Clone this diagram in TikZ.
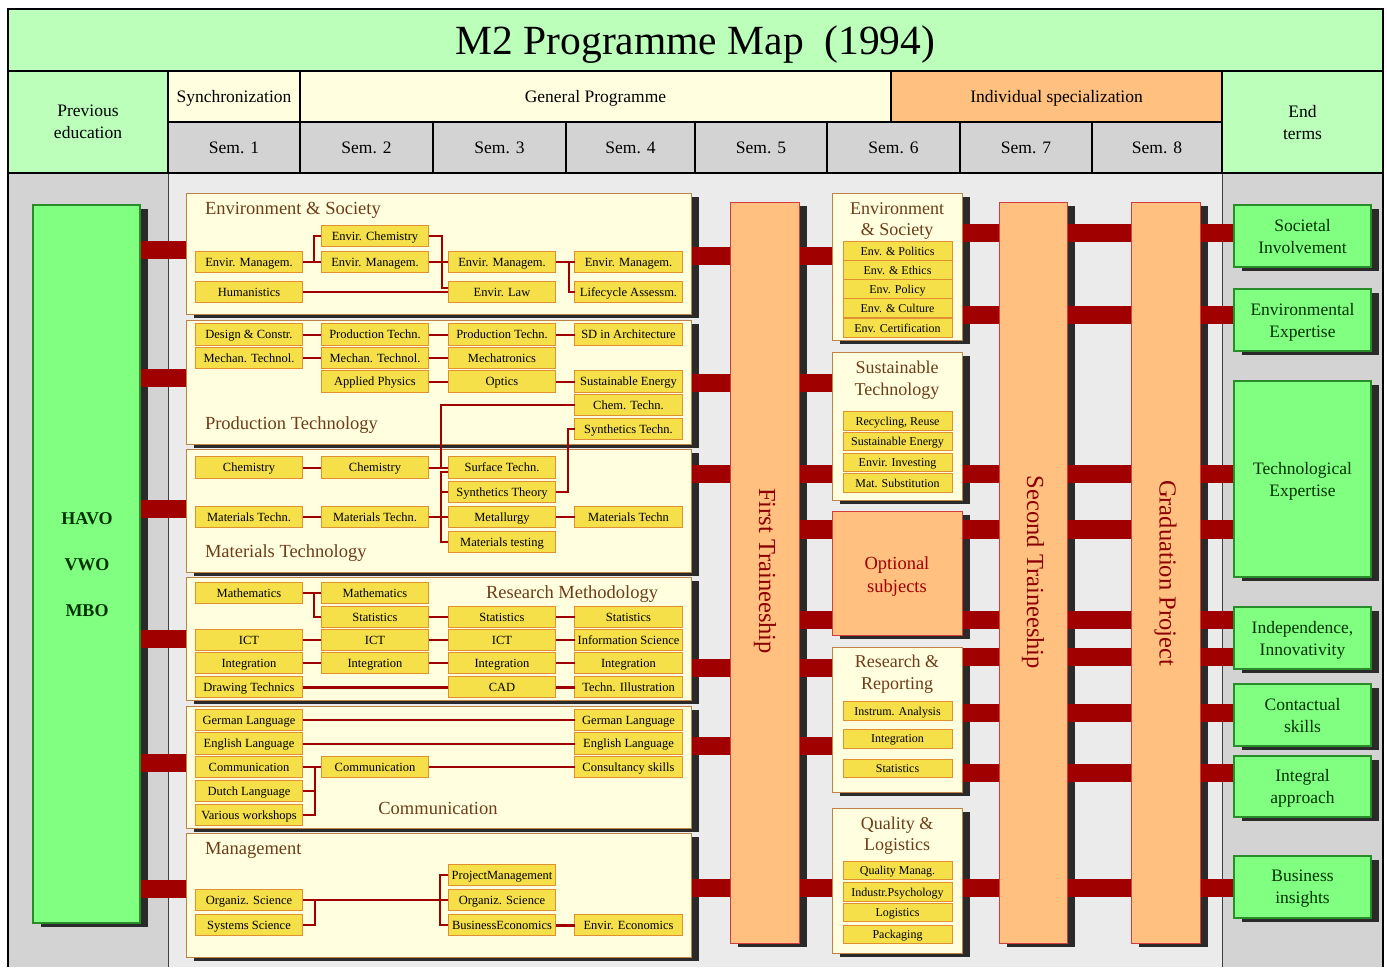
\documentclass[tikz,border=0pt]{standalone}
\usepackage{fontspec}
\setmainfont{Liberation Serif}
\usetikzlibrary{calc}

\definecolor{titlegreen}{RGB}{187,255,187}
\definecolor{boxgreen}{RGB}{128,255,128}
\definecolor{greenbd}{RGB}{40,140,40}
\definecolor{paleyellow}{RGB}{255,255,224}
\definecolor{orangefill}{RGB}{255,192,128}
\definecolor{semgrey}{RGB}{211,211,211}
\definecolor{bodygrey}{RGB}{235,235,235}
\definecolor{barred}{RGB}{160,0,0}
\definecolor{coursefill}{RGB}{245,224,74}
\definecolor{coursebd}{RGB}{224,144,48}
\definecolor{modulebd}{RGB}{190,130,70}
\definecolor{titlebrown}{RGB}{110,60,25}
\definecolor{shadowc}{RGB}{42,42,42}
\definecolor{traineetext}{RGB}{140,0,0}
\definecolor{traineebd}{RGB}{210,60,60}
\definecolor{darkgreentext}{RGB}{0,50,0}

\pgfdeclarelayer{bglayer}
\pgfdeclarelayer{shadowlayer}
\pgfdeclarelayer{barlayer}
\pgfsetlayers{bglayer,shadowlayer,barlayer,main}

% rectangle node given by its corners: name, x1, y1, x2, y2, style, text
\newcommand\cellbox[7]{%
  \node[#6, minimum width={#4-#2}, minimum height={#5-#3}] (#1) at ({(#2+#4)/2},{(#3+#5)/2}) {#7};}
% dark drop shadow behind a named box
\newcommand\castshadow[1]{%
  \begin{pgfonlayer}{shadowlayer}
    \fill[shadowc] ($(#1.south west)+(8,3.5)$) rectangle ($(#1.north east)+(8,3.5)$);
  \end{pgfonlayer}}

\begin{document}
\begin{tikzpicture}[x=1pt,y=-1pt,
  every node/.style={inner sep=0pt,outer sep=0pt},
  hcell/.style={draw=black,line width=1.3pt,font=\fontsize{17.5}{22}\selectfont,align=center,text depth=0pt},
  module/.style={draw=modulebd,fill=paleyellow,line width=1pt},
  mtitle/.style={text=titlebrown,font=\fontsize{18.5}{22}\selectfont,text depth=0pt},
  stitle/.style={text=titlebrown,font=\fontsize{18}{21.5}\selectfont,align=center,text depth=0pt},
  course/.style={draw=coursebd,fill=coursefill,line width=1pt,minimum width=107.5,minimum height=21.5,font=\fontsize{12.5}{14}\selectfont,text depth=0pt},
  item/.style={draw=coursebd,fill=coursefill,line width=1pt,minimum width=109,minimum height=18.5,font=\fontsize{12}{14}\selectfont,text depth=0pt},
  trainee/.style={draw=traineebd,fill=orangefill,line width=1pt},
  vtext/.style={text=traineetext,font=\fontsize{24.5}{28}\selectfont,rotate=-90},
  goal/.style={draw=greenbd,fill=boxgreen,line width=1.2pt,text=darkgreentext,font=\fontsize{17.5}{22}\selectfont,align=center,text depth=0pt},
  bar/.style={draw=barred,line width=18.5pt},
  link/.style={draw=barred,line width=2pt},
  thicklink/.style={draw=barred,line width=3pt},
]
\useasboundingbox (0,0) rectangle (1387,967);

% body background columns
\begin{pgfonlayer}{bglayer}
  \fill[white] (0,0) rectangle (1387,967);
  \fill[semgrey] (8,173) rectangle (168,967);
  \fill[bodygrey] (168,173) rectangle (1222,967);
  \fill[semgrey] (1222,173) rectangle (1383,967);
  \draw[line width=1.3pt] (8,173) -- (8,967) (1383,173) -- (1383,967);
  \draw[line width=1pt,black!75] (168,173) -- (168,967) (1222,173) -- (1222,967);
\end{pgfonlayer}

% header
\cellbox{title}{8}{9}{1383}{71}{hcell,fill=titlegreen,font=\fontsize{41.5}{46}\selectfont}{M2 Programme Map~ (1994)}
\cellbox{prevedu}{8}{71}{168}{173}{hcell,fill=titlegreen}{Previous\\education}
\cellbox{sync}{168}{71}{300}{122}{hcell,fill=paleyellow}{Synchronization}
\cellbox{genprog}{300}{71}{891}{122}{hcell,fill=paleyellow}{General Programme}
\cellbox{indiv}{891}{71}{1222}{122}{hcell,fill=orangefill}{Individual specialization}
\cellbox{endterms}{1222}{71}{1383}{173}{hcell,fill=titlegreen}{End\\terms}
\cellbox{sem1}{168}{122}{300}{173}{hcell,fill=semgrey}{Sem. 1}
\cellbox{sem2}{300}{122}{433}{173}{hcell,fill=semgrey}{Sem. 2}
\cellbox{sem3}{433}{122}{566}{173}{hcell,fill=semgrey}{Sem. 3}
\cellbox{sem4}{566}{122}{695}{173}{hcell,fill=semgrey}{Sem. 4}
\cellbox{sem5}{695}{122}{827}{173}{hcell,fill=semgrey}{Sem. 5}
\cellbox{sem6}{827}{122}{960}{173}{hcell,fill=semgrey}{Sem. 6}
\cellbox{sem7}{960}{122}{1092}{173}{hcell,fill=semgrey}{Sem. 7}
\cellbox{sem8}{1092}{122}{1222}{173}{hcell,fill=semgrey}{Sem. 8}

% previous education
\cellbox{prev}{33}{205}{140}{923}{goal}{}
\node[font=\bfseries\fontsize{18}{46}\selectfont,text=darkgreentext,align=center] (prevtxt) at (87,565) {HAVO\\VWO\\MBO};

% module boxes of the general programme
\cellbox{m1}{186}{193}{691}{314}{module}{}
\cellbox{m2}{186}{320}{691}{444}{module}{}
\cellbox{m3}{186}{449}{691}{572}{module}{}
\cellbox{m4}{186}{577}{691}{700}{module}{}
\cellbox{m5}{186}{706}{691}{828}{module}{}
\cellbox{m6}{186}{833}{691}{957}{module}{}
\node[mtitle,anchor=west] (m1t) at (205,208) {Environment \& Society};
\node[mtitle,anchor=west] (m2t) at (205,423) {Production Technology};
\node[mtitle,anchor=west] (m3t) at (205,551) {Materials Technology};
\node[mtitle,anchor=west] (m4t) at (486,592) {Research Methodology};
\node[mtitle] (m5t) at (438,808) {Communication};
\node[mtitle,anchor=west] (m6t) at (205,848) {Management};

% traineeships and graduation
\cellbox{ft}{730}{202}{799}{943}{trainee}{}
\cellbox{st}{999}{202}{1067}{943}{trainee}{}
\cellbox{gp}{1131}{202}{1200}{943}{trainee}{}
\node[vtext] (ftl) at (765,571) {First Traineeship};
\node[vtext] (stl) at (1033,572.5) {Second Traineeship};
\node[vtext] (gpl) at (1165.5,573) {Graduation Project};

% semester 6 specializations
\cellbox{es6}{832}{193}{962}{340}{module}{}
\node[stitle] (es6t) at (897,219) {Environment\\\& Society};
\node[item] (es6a) at (897.5,251) {Env. \& Politics};
\node[item] (es6b) at (897.5,270) {Env. \& Ethics};
\node[item] (es6c) at (897.5,289) {Env. Policy};
\node[item] (es6d) at (897.5,308) {Env. \& Culture};
\node[item] (es6e) at (897.5,328) {Env. Certification};

\cellbox{st6}{832}{352}{962}{500}{module}{}
\node[stitle] (st6t) at (897,378) {Sustainable\\Technology};
\node[item] (st6a) at (897.5,421) {Recycling, Reuse};
\node[item] (st6b) at (897.5,441.5) {Sustainable Energy};
\node[item] (st6c) at (897.5,462.5) {Envir. Investing};
\node[item] (st6d) at (897.5,483) {Mat. Substitution};

\cellbox{opt}{832}{511}{962}{635}{trainee}{}
\node[text=barred,font=\fontsize{18.5}{23}\selectfont,align=center,text depth=0pt] (optt) at (897,574.5) {Optional\\subjects};

\cellbox{rr6}{832}{647}{962}{792}{module}{}
\node[stitle] (rr6t) at (897,672) {Research \&\\Reporting};
\node[item] (rr6a) at (897.5,711) {Instrum. Analysis};
\node[item] (rr6b) at (897.5,739) {Integration};
\node[item] (rr6c) at (897.5,768.5) {Statistics};

\cellbox{ql6}{832}{808}{962}{953}{module}{}
\node[stitle] (ql6t) at (897,833.5) {Quality \&\\Logistics};
\node[item] (ql6a) at (897.5,870.5) {Quality Manag.};
\node[item] (ql6b) at (897.5,892) {Industr.Psychology};
\node[item] (ql6c) at (897.5,912.5) {Logistics};
\node[item] (ql6d) at (897.5,934.5) {Packaging};

% end terms
\cellbox{soc}{1234}{205}{1371}{267}{goal}{Societal\\Involvement}
\cellbox{envx}{1234}{289}{1371}{351}{goal}{Environmental\\Expertise}
\cellbox{tech}{1234}{381}{1371}{577}{goal}{Technological\\Expertise}
\cellbox{indep}{1234}{607}{1371}{669}{goal}{Independence,\\Innovativity}
\cellbox{contact}{1234}{684}{1371}{746}{goal}{Contactual\\skills}
\cellbox{integral}{1234}{756}{1371}{817}{goal}{Integral\\approach}
\cellbox{business}{1234}{856}{1371}{918}{goal}{Business\\insights}

% shadows
\foreach \b in {prev,m1,m2,m3,m4,m5,m6,ft,st,gp,es6,st6,opt,rr6,ql6,soc,envx,tech,indep,contact,integral,business}{\castshadow{\b}}

% broad links between the stages
\begin{pgfonlayer}{barlayer}
  \draw[bar] (prev.east |- 0,250) -- (m1.west |- 0,250);
  \draw[bar] (prev.east |- 0,378) -- (m2.west |- 0,378);
  \draw[bar] (prev.east |- 0,509) -- (m3.west |- 0,509);
  \draw[bar] (prev.east |- 0,639) -- (m4.west |- 0,639);
  \draw[bar] (prev.east |- 0,763) -- (m5.west |- 0,763);
  \draw[bar] (prev.east |- 0,889) -- (m6.west |- 0,889);
  \draw[bar] (m1.east |- 0,256) -- (es6.west |- 0,256);
  \draw[bar] (m2.east |- 0,383) -- (st6.west |- 0,383);
  \draw[bar] (m3.east |- 0,474) -- (st6.west |- 0,474);
  \draw[bar] (ft.east |- 0,529.5) -- (opt.west |- 0,529.5);
  \draw[bar] (ft.east |- 0,620) -- (opt.west |- 0,620);
  \draw[bar] (m4.east |- 0,668) -- (rr6.west |- 0,668);
  \draw[bar] (m5.east |- 0,746) -- (rr6.west |- 0,746);
  \draw[bar] (m6.east |- 0,888) -- (ql6.west |- 0,888);
  \draw[bar] (es6.east |- 0,233) -- (soc.west |- 0,233);
  \draw[bar] (es6.east |- 0,315) -- (envx.west |- 0,315);
  \draw[bar] (st6.east |- 0,474) -- (tech.west |- 0,474);
  \draw[bar] (opt.east |- 0,529.5) -- (tech.west |- 0,529.5);
  \draw[bar] (opt.east |- 0,620) -- (indep.west |- 0,620);
  \draw[bar] (rr6.east |- 0,657) -- (indep.west |- 0,657);
  \draw[bar] (rr6.east |- 0,713) -- (contact.west |- 0,713);
  \draw[bar] (rr6.east |- 0,773) -- (integral.west |- 0,773);
  \draw[bar] (ql6.east |- 0,888) -- (business.west |- 0,888);
\end{pgfonlayer}

\def\ca{249}\def\cb{375}\def\cc{502}\def\cd{628.5}

% Environment & Society courses
\node[course] (a1) at (\ca,262) {Envir. Managem.};
\node[course] (a2) at (\cb,236) {Envir. Chemistry};
\node[course] (a3) at (\cb,262) {Envir. Managem.};
\node[course] (a4) at (\cc,262) {Envir. Managem.};
\node[course] (a5) at (\cd,262) {Envir. Managem.};
\node[course] (a6) at (\ca,292) {Humanistics};
\node[course] (a7) at (\cc,292) {Envir. Law};
\node[course] (a8) at (\cd,292) {Lifecycle Assessm.};
\draw[link] (a1.east) -- (a3.west);
\draw[link] (a1.east) -- ++(11,0) |- (a2.west);
\draw[link] (a2.east) -- ++(13,0) |- ($(a7.west)+(0,-4)$);
\draw[link] (a3.east) -- (a4.west);
\draw[link] (a6.east) -- (a7.west);
\draw[link] (a4.east) -- (a5.west);
\draw[link] (a4.east) -- ++(13,0) |- (a8.west);

% Production Technology courses
\node[course] (b1) at (\ca,334.5) {Design \& Constr.};
\node[course] (b2) at (\cb,334.5) {Production Techn.};
\node[course] (b3) at (\cc,334.5) {Production Techn.};
\node[course] (b4) at (\cd,334.5) {SD in Architecture};
\node[course] (b5) at (\ca,358) {Mechan. Technol.};
\node[course] (b6) at (\cb,358) {Mechan. Technol.};
\node[course] (b7) at (\cc,358) {Mechatronics};
\node[course] (b8) at (\cb,381.5) {Applied Physics};
\node[course] (b9) at (\cc,381.5) {Optics};
\node[course] (b10) at (\cd,381.5) {Sustainable Energy};
\node[course] (b11) at (\cd,405) {Chem. Techn.};
\node[course] (b12) at (\cd,429) {Synthetics Techn.};
\draw[link] (b1.east) -- (b2.west);
\draw[link] (b2.east) -- (b3.west);
\draw[link] (b3.east) -- (b4.west);
\draw[link] (b5.east) -- (b6.west);
\draw[link] (b6.east) -- (b7.west);
\draw[link] (b8.east) -- (b9.west);
\draw[link] (b9.east) -- (b10.west);

% Materials Technology courses
\node[course] (c1) at (\ca,467.5) {Chemistry};
\node[course] (c2) at (\cb,467.5) {Chemistry};
\node[course] (c3) at (\cc,467.5) {Surface Techn.};
\node[course] (c4) at (\cc,492) {Synthetics Theory};
\node[course] (c5) at (\ca,517) {Materials Techn.};
\node[course] (c6) at (\cb,517) {Materials Techn.};
\node[course] (c7) at (\cc,517) {Metallurgy};
\node[course] (c8) at (\cd,517) {Materials Techn};
\node[course] (c9) at (\cc,542) {Materials testing};
\draw[link] (c1.east) -- (c2.west);
\draw[link] (c2.east) -- (c3.west);
\draw[link] (c5.east) -- (c6.west);
\draw[link] (c6.east) -- (c7.west);
\draw[link] (c7.east) -- (c8.west);
\draw[link] (c6.east) -- ++(12,0) |- ($(c3.west)+(0,4.5)$);
\draw[link] (c6.east) -- ++(12,0) |- (c4.west);
\draw[link] (c6.east) -- ++(12,0) |- (c9.west);
\draw[link] (b11.west) -| ($(c2.east)+(12,0)$);
\draw[link] (b12.west) -- ++(-7,0) |- (c4.east);

% Research Methodology courses
\node[course] (d1) at (\ca,593) {Mathematics};
\node[course] (d2) at (\cb,593) {Mathematics};
\node[course] (d3) at (\cb,617) {Statistics};
\node[course] (d4) at (\cc,617) {Statistics};
\node[course] (d5) at (\cd,617) {Statistics};
\node[course] (d6) at (\ca,640) {ICT};
\node[course] (d7) at (\cb,640) {ICT};
\node[course] (d8) at (\cc,640) {ICT};
\node[course] (d9) at (\cd,640) {Information Science};
\node[course] (d10) at (\ca,663) {Integration};
\node[course] (d11) at (\cb,663) {Integration};
\node[course] (d12) at (\cc,663) {Integration};
\node[course] (d13) at (\cd,663) {Integration};
\node[course] (d14) at (\ca,687) {Drawing Technics};
\node[course] (d15) at (\cc,687) {CAD};
\node[course] (d16) at (\cd,687) {Techn. Illustration};
\draw[link] (d1.east) -- (d2.west);
\draw[link] (d1.east) -- ++(11,0) |- (d3.west);
\draw[link] (d3.east) -- (d4.west);
\draw[link] (d4.east) -- (d5.west);
\draw[link] (d6.east) -- (d7.west);
\draw[link] (d7.east) -- (d8.west);
\draw[link] (d8.east) -- (d9.west);
\draw[link] (d10.east) -- (d11.west);
\draw[link] (d11.east) -- (d12.west);
\draw[link] (d12.east) -- (d13.west);
\draw[thicklink] (d14.east) -- (d15.west);
\draw[thicklink] (d15.east) -- (d16.west);

% Communication courses
\node[course] (e1) at (\ca,720) {German Language};
\node[course] (e2) at (\cd,720) {German Language};
\node[course] (e3) at (\ca,743.5) {English Language};
\node[course] (e4) at (\cd,743.5) {English Language};
\node[course] (e5) at (\ca,767) {Communication};
\node[course] (e6) at (\cb,767) {Communication};
\node[course] (e7) at (\cd,767) {Consultancy skills};
\node[course] (e8) at (\ca,791) {Dutch Language};
\node[course] (e9) at (\ca,815) {Various workshops};
\draw[link] (e1.east) -- (e2.west);
\draw[link] (e3.east) -- (e4.west);
\draw[link] (e5.east) -- (e6.west);
\draw[link] (e6.east) -- (e7.west);
\draw[link] (e8.east) -- ++(12,0);
\draw[link] (e9.east) -| ($(e5.east)+(12,0)$);

% Management courses
\node[course] (f1) at (\cc,875) {ProjectManagement};
\node[course] (f2) at (\ca,900) {Organiz. Science};
\node[course] (f3) at (\cc,900) {Organiz. Science};
\node[course] (f4) at (\ca,925) {Systems Science};
\node[course] (f5) at (\cc,925) {BusinessEconomics};
\node[course] (f6) at (\cd,925) {Envir. Economics};
\draw[link] (f2.east) -- (f3.west);
\draw[link] (f4.east) -| ($(f2.east)+(12,0)$);
\draw[link] (f1.west) -- ++(-8,0) |- (f5.west);
\draw[thicklink] (f5.east) -- (f6.west);
\end{tikzpicture}
\end{document}
